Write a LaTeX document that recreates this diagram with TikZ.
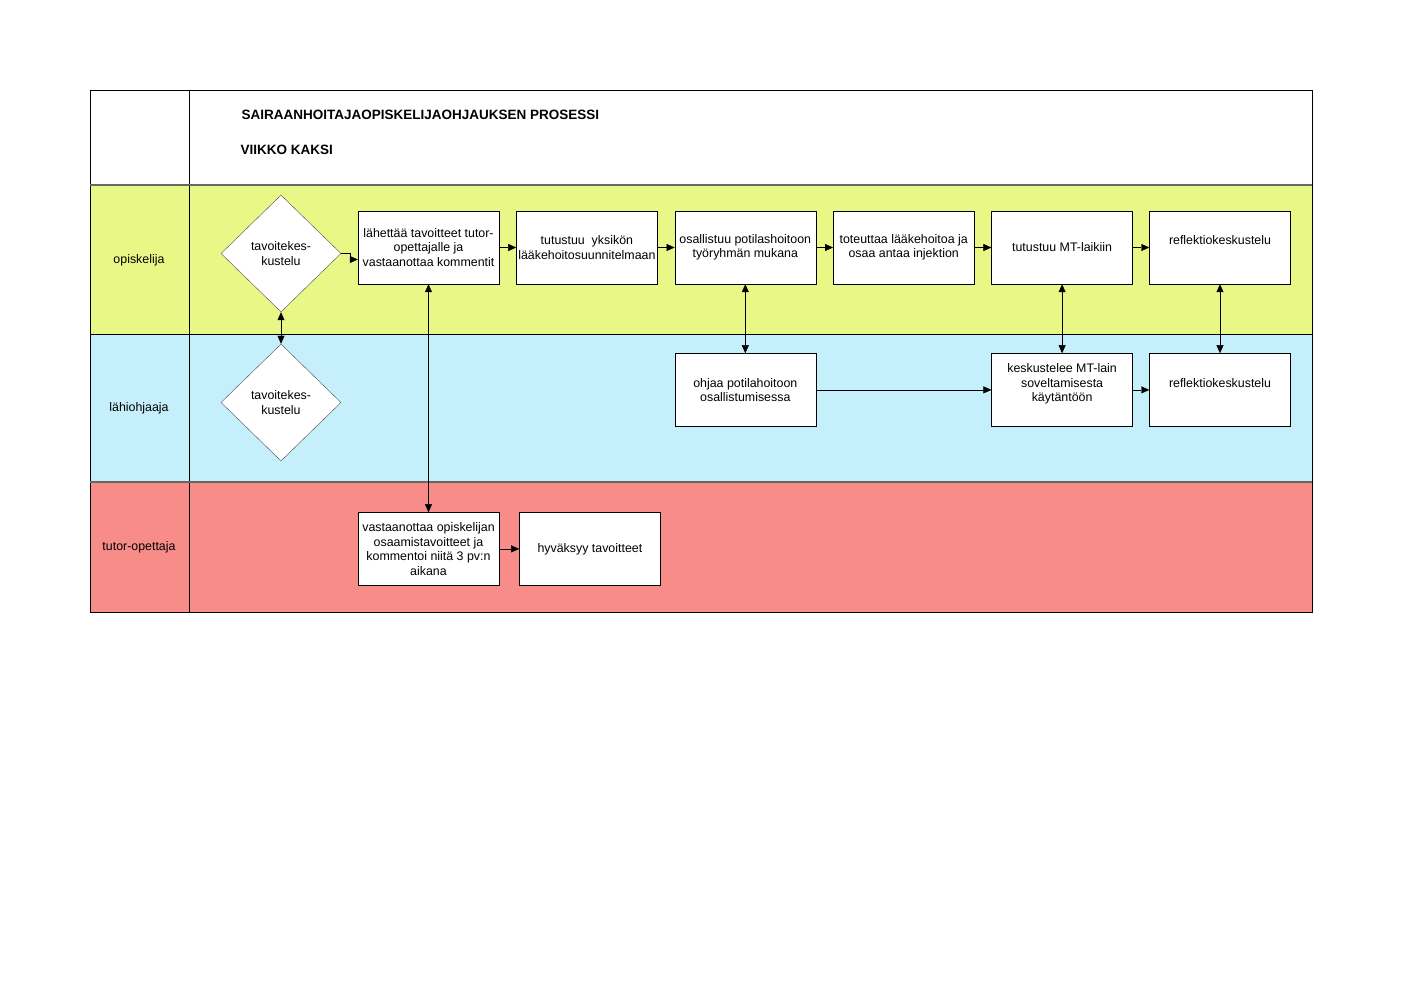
\documentclass[tikz,border=0pt]{standalone}
\usepackage{fontspec}
\setmainfont{Liberation Sans}
\usetikzlibrary{shapes.geometric, arrows.meta, calc, positioning}
\definecolor{laneyellow}{RGB}{233,247,134}
\definecolor{laneblue}{RGB}{197,239,250}
\definecolor{lanered}{RGB}{247,140,136}
\tikzstyle{task} = [rectangle, draw=black, fill=white, minimum width=141pt, minimum height=73pt, inner sep=1pt, align=center, font=\fontsize{12.4}{14.5}\selectfont]
\tikzstyle{decision} = [diamond, draw=black!70, fill=white, minimum width=120pt, minimum height=117pt, inner sep=0pt, align=center, font=\fontsize{12.4}{14.5}\selectfont]
\tikzstyle{lane} = [align=center, font=\fontsize{12.4}{14.5}\selectfont]
\tikzstyle{heading} = [anchor=west, font=\bfseries\fontsize{13.5}{16}\selectfont]
\tikzstyle{arrow} = [-{Triangle[length=8pt,width=7pt]}]
\tikzstyle{twoway} = [{Triangle[length=8pt,width=7pt]}-{Triangle[length=8pt,width=7pt]}]
\begin{document}
\begin{tikzpicture}[x=1pt, y=-1pt]
	\useasboundingbox (0,0) rectangle (1403,992);
	% swimlanes
	\fill [laneyellow] (90,185) rectangle (1312,334);
	\fill [laneblue] (90,334) rectangle (1312,482);
	\fill [lanered] (90,482) rectangle (1312,612);
	\draw (90,90) rectangle (1312,612);
	\draw (189,90) -- (189,612);
	\draw (90,334) -- (1312,334);
	\draw [black!60, line width=1.5pt] (90,185) -- (1312,185);
	\draw [black!60, line width=1.5pt] (90,482) -- (1312,482);
	\node (Title) [heading] at (238,115) {SAIRAANHOITAJAOPISKELIJAOHJAUKSEN PROSESSI};
	\node (Week) [heading] at (237,150) {VIIKKO KAKSI};
	\node (Student) [lane] at (139,260) {opiskelija};
	\node (Mentor) [lane] at (139,408) {lähiohjaaja};
	\node (Tutor) [lane] at (139,547) {tutor-opettaja};
	% opiskelija
	\node (Goals) [decision] at (281,253.5) {tavoitekes-\\kustelu};
	\node (Send) [task] at (428.5,247.5) {lähettää tavoitteet tutor-\\opettajalle ja\\vastaanottaa kommentit};
	\node (Unit) [task, right=17pt of Send] {tutustuu~ yksikön\\lääkehoitosuunnitelmaan};
	\node (Patient) [task, right=17pt of Unit] {osallistuu potilashoitoon\\työryhmän mukana};
	\node (Medicine) [task, right=17pt of Patient] {toteuttaa lääkehoitoa ja\\osaa antaa injektion};
	\node (Law) [task, right=17pt of Medicine] {tutustuu MT-laikiin};
	\node (ReflectA) [task, right=16.5pt of Law] {reflektiokeskustelu\\\mbox{}};
	% lähiohjaaja
	\node (GoalsB) [decision] at (281,402.5) {tavoitekes-\\kustelu};
	\node (Guide) [task, below=69pt of Patient] {ohjaa potilahoitoon\\osallistumisessa};
	\node (Discuss) [task, below=69pt of Law] {keskustelee MT-lain\\soveltamisesta\\käytäntöön\\\mbox{}};
	\node (ReflectB) [task, below=69pt of ReflectA] {reflektiokeskustelu\\\mbox{}};
	% tutor-opettaja
	\node (Receive) [task, below=228pt of Send] {vastaanottaa opiskelijan\\osaamistavoitteet ja\\kommentoi niitä 3 pv:n\\aikana};
	\node (Accept) [task, right=20pt of Receive] {hyväksyy tavoitteet};
	% connectors
	\draw [arrow] (Goals.east) -- ++(9,0) |- ($(Send.west)+(0,12)$);
	\draw [arrow] (Send) -- (Unit);
	\draw [arrow] (Unit) -- (Patient);
	\draw [arrow] (Patient) -- (Medicine);
	\draw [arrow] (Medicine) -- (Law);
	\draw [arrow] (Law) -- (ReflectA);
	\draw [twoway] (Goals.south) -- (GoalsB.north);
	\draw [twoway] (Send.south) -- (Receive.north);
	\draw [twoway] (Patient.south) -- (Guide.north);
	\draw [twoway] (Law.south) -- (Discuss.north);
	\draw [twoway] (ReflectA.south) -- (ReflectB.north);
	\draw [arrow] (Guide) -- (Discuss);
	\draw [arrow] (Discuss) -- (ReflectB);
	\draw [arrow] (Receive) -- (Accept);
\end{tikzpicture}
\end{document}
